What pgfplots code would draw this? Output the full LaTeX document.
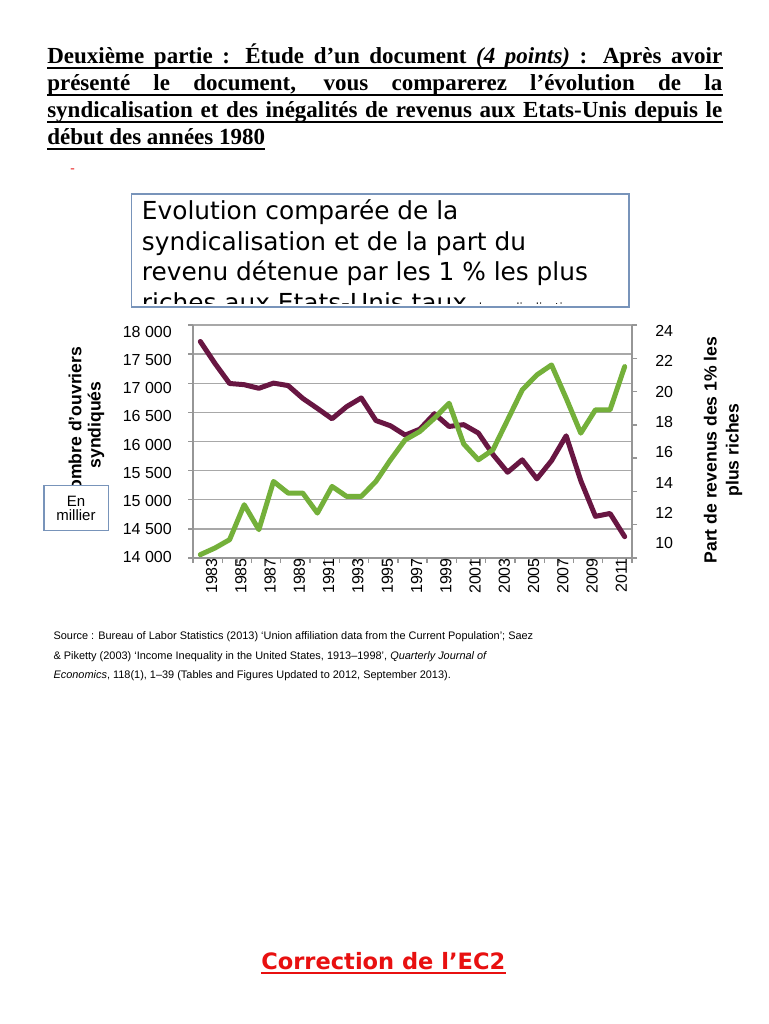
\documentclass[border=0pt]{standalone}
\usepackage{pgfplots}
\pgfplotsset{compat=1.18}
\usepackage{fontspec}
\setmainfont{Liberation Sans}
\newfontfamily\timesfont{Liberation Serif}
\newfontfamily\dejavu{DejaVu Sans}

\definecolor{unionpurple}{RGB}{104,22,66}
\definecolor{sharegreen}{RGB}{116,176,58}
\definecolor{gridgray}{RGB}{168,168,168}
\definecolor{axgray}{RGB}{150,150,150}
\definecolor{boxblue}{RGB}{120,148,186}
\definecolor{corrred}{RGB}{232,16,16}

\newcommand{\hdrfont}{\timesfont\bfseries\fontsize{17.25}{20}\selectfont}
\newcommand{\ttlfont}{\dejavu\fontsize{18.6}{22.5}\selectfont}
\newcommand{\tickfont}{\fontsize{12}{14}\selectfont}

% union membership (thousands)
\pgfplotstableread{
year members
1983 17717
1984 17340
1985 16996
1986 16975
1987 16913
1988 17002
1989 16960
1990 16740
1991 16568
1992 16390
1993 16598
1994 16748
1995 16360
1996 16269
1997 16110
1998 16211
1999 16477
2000 16258
2001 16289
2002 16145
2003 15776
2004 15472
2005 15685
2006 15359
2007 15670
2008 16098
2009 15327
2010 14715
2011 14764
2012 14366
}\uniondata

% income share of the top 1% (%)
\pgfplotstableread{
year share
1983 10.2
1984 10.6
1985 11.1
1986 13.2
1987 11.7
1988 14.6
1989 13.9
1990 13.9
1991 12.7
1992 14.3
1993 13.7
1994 13.7
1995 14.6
1996 15.9
1997 17.1
1998 17.6
1999 18.4
2000 19.3
2001 16.85
2002 15.9
2003 16.5
2004 18.3
2005 20.1
2006 21.0
2007 21.6
2008 19.6
2009 17.5
2010 18.9
2011 18.9
2012 21.5
}\sharedata

\pgfplotsset{
  frame/.style={
    at={(O)}, anchor=south west, scale only axis,
    width=329.25pt, height=174.75pt,
    xmin=1982.5, xmax=2012.5,
    scaled x ticks=false, scaled y ticks=false,
  },
}

\begin{document}
\begin{tikzpicture}[x=0.75pt,y=0.75pt]
\fill[white] (0,0) rectangle (768,1024);

% ---- assignment heading ----
\node[anchor=base west, inner sep=0pt] (h1) at (47,1024-64)
  {\hdrfont\makebox[506.25pt][s]{Deuxième partie : Étude d’un document \textit{(4 points)} : Après avoir}};
\node[anchor=base west, inner sep=0pt] (h2) at (47,1024-91)
  {\hdrfont\makebox[506.25pt][s]{présenté le document, vous comparerez l’évolution de la}};
\node[anchor=base west, inner sep=0pt] (h3) at (47,1024-118)
  {\hdrfont\makebox[506.25pt][s]{syndicalisation et des inégalités de revenus aux Etats-Unis depuis le}};
\node[anchor=base west, inner sep=0pt] (h4) at (47,1024-145)
  {\hdrfont début des années 1980};
\foreach \h in {h1,h2,h3,h4}
  \draw[line width=1.2pt] ([yshift=-3pt]\h.base west) -- ([yshift=-3pt]\h.base east);

\node[anchor=base, inner sep=0pt, text=corrred] at (72.5,1024-173)
  {\timesfont\fontsize{10}{11}\selectfont -};

% ---- chart title box ----
\draw[boxblue, line width=1.1pt, fill=white] (131.7,1024-194) rectangle (629,1024-307);
\begin{scope}
  \clip (133,1024-196) rectangle (627,1024-304);
  \node[anchor=base west, inner sep=0pt] at (141.7,1024-220) {\ttlfont Evolution comparée de la};
  \node[anchor=base west, inner sep=0pt] at (141.7,1024-250.5) {\ttlfont syndicalisation et de la part du};
  \node[anchor=base west, inner sep=0pt] at (141.7,1024-281) {\ttlfont revenu détenue par les 1 \% les plus};
  \node[anchor=base west, inner sep=0pt] at (141.7,1024-311.5)
    {\ttlfont riches aux Etats-Unis taux {\fontsize{8.5}{10}\selectfont de syndicalisation}};
\end{scope}

% ---- chart ----
\coordinate (O) at (193,1024-558);

% left axis: union members
\begin{axis}[frame,
  ymin=14000, ymax=18000,
  axis x line*=bottom, axis y line*=left,
  axis line style={draw=axgray, line width=1.1pt},
  xtick={1982.5,1983.5,...,2012.5}, xticklabels={},
  ytick={14000,14500,...,18000}, yticklabels={},
  tick align=outside, major tick length=3.5pt,
  tick style={draw=axgray, line width=1pt},
  ymajorgrids, grid style={draw=gridgray, line width=1.1pt},
]
\addplot[draw=unionpurple, line width=3.75pt, line join=round, line cap=round]
  table[x=year, y=members] {\uniondata};
\end{axis}

% right axis: top 1% share
\begin{axis}[frame,
  ymin=10, ymax=24,
  hide x axis, axis y line*=right,
  axis line style={draw=axgray, line width=1.1pt},
  ytick={10,12,...,24}, yticklabels={},
  tick align=outside, major tick length=3.75pt,
  tick style={draw=axgray, line width=1pt},
]
\addplot[draw=sharegreen, line width=3.75pt, line join=round, line cap=round]
  table[x=year, y=share] {\sharedata};
\end{axis}

% left and bottom tick labels
\begin{axis}[frame,
  ymin=13988, ymax=18119,
  axis x line*=bottom, axis y line*=left,
  axis line style={draw=none}, tick style={draw=none}, major tick length=0pt,
  xtick={1983,1985,...,2011},
  xticklabels={1983,1985,1987,1989,1991,1993,1995,1997,1999,2001,2003,2005,2007,2009,2011},
  xticklabel style={rotate=90, anchor=east, inner sep=0pt, yshift=-8.5pt, font=\tickfont},
  ytick={14000,14500,...,18000},
  yticklabels={14 000,14 500,15 000,15 500,16 000,16 500,17 000,17 500,18 000},
  yticklabel style={anchor=east, inner sep=0pt, xshift=-15.75pt, font=\tickfont},
]
\end{axis}

% right tick labels
\begin{axis}[frame,
  ymin=9.03, ymax=24.40,
  hide x axis, axis y line*=right,
  axis line style={draw=none}, tick style={draw=none}, major tick length=0pt,
  ytick={10,12,...,24},
  yticklabels={10,12,14,16,18,20,22,24},
  yticklabel style={anchor=west, inner sep=0pt, xshift=17.25pt, font=\tickfont},
]
\end{axis}

% axis titles
\node[rotate=90, align=center, inner sep=0pt,
  font=\bfseries\fontsize{13.2}{14.5}\selectfont] at (86.5,1024-425)
  {Nombre d'ouvriers\\syndiqués};
\node[rotate=90, align=center, inner sep=0pt,
  font=\bfseries\fontsize{13.2}{16.5}\selectfont] at (723,1024-450)
  {Part de revenus des 1\% les\\plus riches};

% unit box
\draw[boxblue, line width=1pt, fill=white] (44,1024-485.7) rectangle (108.3,1024-530.7);
\node[align=center, inner sep=0pt, font=\fontsize{11.25}{10.5}\selectfont] at (76,1024-508)
  {En\\millier};

% ---- source ----
\node[anchor=base west, inner sep=0pt, font=\fontsize{8.2}{10}\selectfont] at (53.3,1024-640)
  {Source : Bureau of Labor Statistics (2013) ‘Union affiliation data from the Current Population’; Saez};
\node[anchor=base west, inner sep=0pt, font=\fontsize{8.2}{10}\selectfont] at (53.3,1024-659.3)
  {\& Piketty (2003) ‘Income Inequality in the United States, 1913–1998’, \textit{Quarterly Journal of}};
\node[anchor=base west, inner sep=0pt, font=\fontsize{8.2}{10}\selectfont] at (53.3,1024-678.6)
  {\textit{Economics}, 118(1), 1–39 (Tables and Figures Updated to 2012, September 2013).};

% ---- correction heading ----
\node[anchor=base, inner sep=0pt, text=corrred] (corr) at (383.3,1024-969.3)
  {\dejavu\bfseries\fontsize{16.9}{20}\selectfont Correction de l’EC2};
\draw[corrred, line width=1.6pt] ([yshift=-2.8pt]corr.base west) -- ([yshift=-2.8pt]corr.base east);
\end{tikzpicture}
\end{document}
